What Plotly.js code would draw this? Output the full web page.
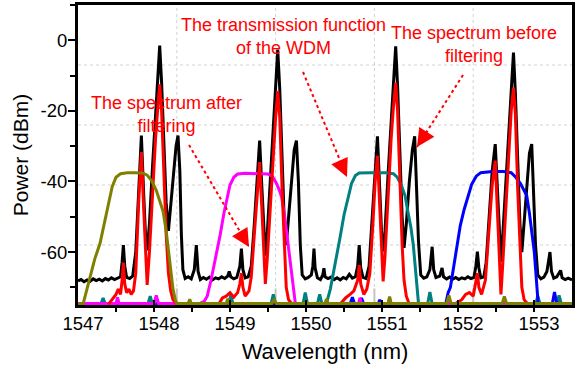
<!DOCTYPE html>
<html>
<head>
<meta charset="utf-8">
<script src="https://cdn.plot.ly/plotly-3.0.1.min.js"></script>
<style>html,body{margin:0;padding:0;background:#fff;}#chart{width:576px;height:372px;}</style>
</head>
<body>
<div id="chart"></div>
<script>
// ---- Spectrum before filtering (black) ----
const blackWl = [1547.00,1547.04,1547.08,1547.12,1547.16,1547.20,1547.24,1547.28,1547.32,1547.36,1547.40,1547.44,1547.48,1547.52,1547.56,
1547.58,1547.597,1547.615,1547.64,1547.68,1547.72,
1547.76,1547.80,1547.834,1547.865,1547.89,1547.91,1547.94,1547.98,1548.02,1548.05,1548.075,1548.10,1548.13,1548.16,1548.19,1548.22,1548.26,1548.29,1548.316,1548.34,1548.36,1548.38,1548.41,1548.45,1548.49,1548.53,1548.557,1548.58,1548.61,
1548.65,1548.69,1548.73,1548.77,1548.81,1548.85,1548.89,1548.93,1548.97,1548.99,1549.01,1549.05,1549.09,1549.13,1549.15,1549.17,1549.20,1549.24,
1549.28,1549.32,1549.36,1549.39,1549.42,1549.445,1549.465,1549.49,1549.53,1549.57,1549.60,1549.628,1549.655,1549.685,1549.715,1549.74,1549.77,1549.81,1549.845,1549.874,1549.90,1549.925,1549.95,1549.99,
1550.03,1550.07,1550.09,1550.105,1550.12,1550.15,1550.19,1550.22,1550.236,1550.25,1550.29,1550.33,1550.37,1550.41,1550.45,1550.49,1550.53,1550.57,1550.61,1550.65,1550.68,1550.70,1550.72,1550.75,1550.79,
1550.83,1550.87,1550.91,1550.94,1550.97,1550.995,1551.015,1551.04,1551.08,1551.12,1551.15,1551.18,1551.205,1551.235,1551.265,1551.29,1551.32,1551.36,1551.40,1551.43,1551.455,1551.48,1551.51,1551.55,1551.59,1551.63,1551.66,1551.68,1551.71,1551.76,1551.79,1551.81,
1551.85,1551.89,1551.93,1551.97,1552.01,1552.05,1552.09,1552.13,1552.17,1552.21,1552.235,1552.255,1552.275,1552.30,1552.34,
1552.37,1552.41,1552.45,1552.49,1552.52,1552.545,1552.565,1552.59,1552.63,1552.67,1552.70,1552.73,1552.755,1552.785,1552.815,1552.84,1552.87,1552.91,1552.94,1552.97,1552.995,1553.02,1553.05,1553.09,1553.13,1553.17,1553.21,1553.23,1553.26,1553.30,1553.35,1553.37,1553.41,1553.45,1553.50];
const blackDb = [-68.2,-67.8,-68.4,-67.9,-68.3,-67.6,-68.1,-67.7,-68.2,-67.5,-67.9,-67.3,-67.8,-67.4,-67.0,
-63,-58,-64,-67.2,-67.5,-66.8,
-60,-42,-27,-44,-56,-59.5,-52,-36,-21,-10,-1.5,-12,-30,-46,-54,-47,-36,-30,-27,-37,-55,-65,-67.5,-67.0,-67.6,-65,-58,-65.5,-67.8,
-67.2,-67.7,-67.1,-67.9,-67.3,-67.6,-67.0,-67.5,-66.8,-65.5,-67.0,-67.6,-67.2,-64,-59,-65,-67.3,-67.0,
-64,-52,-37,-28.4,-42,-55,-61,-55,-40,-24,-12,-2.6,-14,-35,-52,-58,-50,-38,-31,-28.4,-40,-58,-66.5,-67.6,
-67.2,-66.5,-64,-59,-64.5,-67.3,-67.8,-66.5,-64.6,-67,-67.5,-67.1,-67.8,-67.3,-67.9,-67.2,-67.6,-66.3,-67.4,-67.0,-64,-58,-64.5,-67.2,-67.5,
-64,-50,-36,-27.2,-42,-55,-59.8,-54,-38,-22,-11,-1.7,-13,-33,-50,-58.8,-52,-40,-31,-27.2,-40,-57,-66.5,-67.4,-67.0,-65,-58.5,-65,-67.2,-66.8,-64.5,-67,
-67.6,-67.1,-67.7,-67.2,-67.8,-67.3,-67.6,-67.0,-67.5,-67.2,-64,-59.9,-64.5,-67.3,-67.0,
-63,-50,-37,-29.4,-44,-57,-62.7,-55,-40,-24,-13,-3.5,-15,-35,-52,-60,-52,-39,-32,-29.4,-42,-58,-66.5,-67.6,-67.1,-65.5,-60,-65.5,-67.4,-67.0,-65.2,-67.3,-67.8,-67.4,-67.9];

// ---- Spectrum after filtering (red); null separates the four filtered channels ----
const redWl = [1547.40,1547.45,1547.50,1547.53,1547.56,1547.58,1547.597,1547.615,1547.64,1547.67,1547.70,1547.73,1547.76,1547.80,1547.834,1547.865,1547.89,1547.91,1547.94,1547.98,1548.02,1548.05,1548.075,1548.10,1548.13,1548.16,1548.19,1548.22,1548.25,1548.30,
1548.57,
1548.85,1548.90,1548.95,1549.00,1549.05,1549.10,1549.13,1549.15,1549.17,1549.20,1549.25,1549.28,1549.32,1549.36,1549.39,1549.42,1549.445,1549.465,1549.49,1549.53,1549.57,1549.60,1549.628,1549.655,1549.685,1549.715,1549.74,1549.77,1549.82,
1550.10,
1550.45,1550.52,1550.58,1550.63,1550.68,1550.70,1550.72,1550.76,1550.80,1550.84,1550.88,1550.91,1550.94,1550.97,1550.995,1551.015,1551.04,1551.08,1551.12,1551.15,1551.18,1551.205,1551.235,1551.265,1551.29,1551.32,1551.36,
1551.70,
1551.95,1552.05,1552.10,1552.15,1552.20,1552.235,1552.255,1552.275,1552.31,1552.36,1552.41,1552.45,1552.49,1552.52,1552.545,1552.565,1552.59,1552.63,1552.67,1552.70,1552.73,1552.755,1552.785,1552.815,1552.84,1552.87,1552.92];
const redDb = [-74.8,-73.5,-72,-70.5,-72,-68,-63,-69,-71.5,-70.5,-72,-71,-66,-45,-31.7,-48,-62,-69.3,-60,-42,-28,-19,-12.5,-20,-38,-55,-66,-71,-73.5,-74.8,
null,
-74.8,-73,-72.5,-71.5,-72.8,-71.5,-69,-66,-70,-72.5,-71,-67,-55,-42,-34.5,-48,-62,-69,-62,-47,-32,-22,-14.4,-22,-42,-60,-70,-73.5,-74.8,
null,
-74.8,-73,-72,-71,-68,-63.7,-69,-72,-70.5,-66,-52,-40,-32.7,-47,-61,-68.3,-61,-44,-28,-19,-12,-20,-40,-58,-68,-72.5,-74.8,
null,
-74.8,-73.5,-72,-71.5,-72.5,-69,-66,-70,-72,-68,-54,-41,-34.1,-50,-64,-72,-63,-46,-30,-20,-13.4,-21,-42,-60,-70,-73.5,-74.8];

// ---- WDM transmission functions ----
const oliveWl = [1547.00,1547.07,1547.10,1547.16,1547.22,1547.29,1547.35,1547.40,1547.45,1547.50,1547.56,1547.65,1547.75,1547.85,1547.91,1547.97,1548.03,1548.08,1548.12,1548.16,1548.19,1548.22,1548.25,1548.28,1548.30,
1548.45,1548.47,1548.49,1548.95,1548.97,1548.99,1549.55,1549.58,1549.61,1550.25,1550.27,1550.29,1551.08,1551.10,1551.12,1551.85,1551.88,1551.91,1552.58,1552.61,1552.64,1553.50];
const oliveDb = [-74.8,-74.5,-72,-67,-62,-57.5,-51,-46.5,-41.5,-38.8,-37.8,-37.5,-37.5,-37.6,-38.2,-39.8,-42.5,-45.5,-48.5,-54,-59.5,-65,-70.5,-73.5,-74.6,
-74.6,-73.4,-74.6,-74.6,-73.2,-74.6,-74.6,-73.6,-74.6,-74.6,-73.3,-74.6,-74.6,-72.6,-74.6,-74.6,-72.3,-74.6,-74.6,-72.6,-74.6,-74.6];

const magentaWl = [1547.00,1547.50,1547.52,1547.54,1548.00,1548.03,1548.06,1548.60,1548.66,1548.70,1548.75,1548.80,1548.87,1548.92,1548.96,1549.00,1549.05,1549.10,1549.20,1549.35,1549.50,1549.56,1549.61,1549.65,1549.68,1549.72,1549.75,1549.78,1549.81,1549.84,1549.86,
1550.69,1550.71,1550.73,1551.08,1551.10,1551.12,1553.50];
const magentaDb = [-74.6,-74.6,-72.8,-74.6,-74.6,-72.3,-74.6,-74.6,-74,-72.5,-68,-63,-55.2,-49,-44.5,-41,-38.8,-37.9,-37.7,-37.7,-37.9,-38.6,-40.5,-42.5,-44.5,-50,-55,-60,-66,-71.5,-74.6,
-74.6,-73,-74.6,-74.6,-73.2,-74.6,-74.6];

const tealWl = [1547.00,1547.30,1547.33,1547.36,1547.92,1547.95,1547.98,1548.98,1549.01,1549.04,1549.54,1549.57,1549.60,1549.96,1549.99,1550.02,1550.15,1550.18,1550.21,
1550.27,1550.32,1550.38,1550.447,1550.50,1550.557,1550.60,1550.65,1550.70,1550.85,1551.05,1551.15,1551.20,1551.25,1551.303,1551.34,1551.38,1551.412,1551.44,1551.465,1551.48,
1551.60,1551.63,1551.66,1553.02,1553.05,1553.08,1553.30,1553.33,1553.36,1553.50];
const tealDb = [-74.7,-74.7,-73,-74.7,-74.7,-72.5,-74.7,-74.7,-72.3,-74.7,-74.7,-72,-74.7,-74.7,-71.5,-74.7,-74.7,-72,-74.7,
-74.5,-70.5,-64,-56,-49.5,-44,-40.5,-38.3,-37.6,-37.5,-37.5,-37.8,-38.8,-40.8,-44,-48.5,-53,-58,-65,-71,-74.5,
-74.7,-71.3,-74.7,-74.7,-72.5,-74.7,-74.7,-72.3,-74.7,-74.7];

const blueWl = [1547.00,1550.58,1550.61,1550.64,1550.70,1550.73,1550.76,1550.95,1550.97,1550.99,
1551.84,1551.87,1551.90,1551.93,1551.983,1552.03,1552.08,1552.136,1552.18,1552.24,1552.30,1552.45,1552.60,1552.70,1552.76,1552.82,1552.87,1552.904,1552.94,1552.975,1553.004,1553.025,1553.04,1553.055,
1553.24,1553.27,1553.30,1553.50];
const blueDb = [-74.7,-74.7,-72.8,-74.7,-74.7,-73,-74.7,-74.7,-73.5,-74.7,
-74.5,-71.5,-70,-66,-58,-52.5,-48,-44,-40.8,-38.5,-37.5,-37.2,-37.2,-37.5,-38.8,-40.5,-42.5,-44,-49,-54.5,-60,-66,-72,-74.7,
-74.7,-71.3,-74.7,-74.7];

// ---- Axis ticks and labels ----
const xTicks = [1547,1548,1549,1550,1551,1552,1553];
const yTicks = [0,-20,-40,-60];
const gridFractions = [0.2,0.4,0.6,0.8];

const FONT = 'Liberation Sans, Arial, Helvetica, sans-serif';
const lw = 3;
const traces = [
  {x: blackWl, y: blackDb, mode: 'lines', line: {color: '#000000', width: lw}, name: 'before'},
  {x: tealWl, y: tealDb, mode: 'lines', line: {color: '#008080', width: lw}, name: 'teal'},
  {x: blueWl, y: blueDb, mode: 'lines', line: {color: '#0000ff', width: lw}, name: 'blue'},
  {x: magentaWl, y: magentaDb, mode: 'lines', line: {color: '#ff00ff', width: lw}, name: 'magenta'},
  {x: redWl, y: redDb, mode: 'lines', line: {color: '#ff0000', width: lw}, name: 'after', connectgaps: false},
  {x: oliveWl, y: oliveDb, mode: 'lines', line: {color: '#808000', width: lw}, name: 'olive'}
];

const shapes = [];
gridFractions.forEach(f => {
  shapes.push({type: 'line', xref: 'paper', yref: 'paper', x0: f, x1: f, y0: 0, y1: 1, layer: 'below', line: {color: '#d2d2d2', width: 1, dash: 'dot'}});
  shapes.push({type: 'line', xref: 'paper', yref: 'paper', x0: 0, x1: 1, y0: f, y1: f, layer: 'below', line: {color: '#d2d2d2', width: 1, dash: 'dot'}});
  shapes.push({type: 'line', xref: 'paper', yref: 'paper', x0: f, x1: f, y0: 0, y1: 0.055, layer: 'below', line: {color: '#c4c4c4', width: 2}});
});
// dotted arrow shafts
const arrows = [
  {x0: 0.2247, y0: 0.5333, x1: 0.3462, y1: 0.1933, ax: -6, ay: -10},
  {x0: 0.4555, y0: 0.7767, x1: 0.5445, y1: 0.4267, ax: -5, ay: -11},
  {x0: 0.7794, y0: 0.7667, x1: 0.6862, y1: 0.5267, ax: 6.5, ay: -10}
];
const annotations = [];
arrows.forEach(a => {
  shapes.push({type: 'line', xref: 'paper', yref: 'paper', x0: a.x0, y0: a.y0, x1: a.x1, y1: a.y1, line: {color: '#ff0000', width: 2, dash: 'dot'}});
  annotations.push({xref: 'paper', yref: 'paper', x: a.x1, y: a.y1, text: '', showarrow: true, arrowhead: 2, arrowsize: 1.8, arrowwidth: 2, arrowcolor: '#ff0000', ax: a.ax, ay: a.ay, standoff: 0, startstandoff: 0});
});
const labelFont = {family: FONT, size: 18, color: '#ff0000'};
annotations.push({xref: 'paper', yref: 'paper', x: 0.415, y: 0.896, xanchor: 'center', yanchor: 'middle', text: 'The transmission function<br>of the WDM', showarrow: false, font: labelFont, align: 'center'});
annotations.push({xref: 'paper', yref: 'paper', x: 0.8012, y: 0.8693, xanchor: 'center', yanchor: 'middle', text: 'The spectrum before<br>filtering', showarrow: false, font: labelFont, align: 'center'});
annotations.push({xref: 'paper', yref: 'paper', x: 0.1796, y: 0.635, xanchor: 'center', yanchor: 'middle', text: 'The spectrum after<br>filtering', showarrow: false, font: labelFont, align: 'center'});

const layout = {
  width: 576, height: 372,
  margin: {l: 78, r: 4, t: 5, b: 67, pad: 0},
  paper_bgcolor: '#ffffff', plot_bgcolor: '#ffffff',
  showlegend: false,
  font: {family: FONT, color: '#000000'},
  xaxis: {
    range: [1547, 1553.5], tickvals: xTicks, ticktext: xTicks.map(String),
    ticks: 'inside', ticklen: 5, tickwidth: 2, tickcolor: '#000',
    minor: {dtick: 0.5, tick0: 1547, ticks: 'outside', ticklen: 4, tickwidth: 2, tickcolor: '#000'},
    showline: true, linewidth: 3, linecolor: '#000', mirror: true,
    showgrid: false, zeroline: false,
    tickfont: {family: FONT, size: 18.5, color: '#000'},
    ticklabelshift: 5,
    title: {text: 'Wavelength (nm)', font: {family: FONT, size: 22, color: '#000'}, standoff: 11}
  },
  yaxis: {
    range: [-75, 10], tickvals: yTicks, ticktext: yTicks.map(String),
    ticks: 'outside', ticklen: 7, tickwidth: 2, tickcolor: '#000',
    minor: {dtick: 10, tick0: 0, ticks: 'outside', ticklen: 5, tickwidth: 2, tickcolor: '#000'},
    showline: true, linewidth: 3, linecolor: '#000', mirror: true,
    showgrid: false, zeroline: false,
    tickfont: {family: FONT, size: 18.5, color: '#000'},
    ticklabelstandoff: -3,
    title: {text: 'Power (dBm)', font: {family: FONT, size: 21, color: '#000'}, standoff: 7}
  },
  shapes: shapes,
  annotations: annotations
};

Plotly.newPlot('chart', traces, layout, {staticPlot: true, displayModeBar: false});
</script>
</body>
</html>
